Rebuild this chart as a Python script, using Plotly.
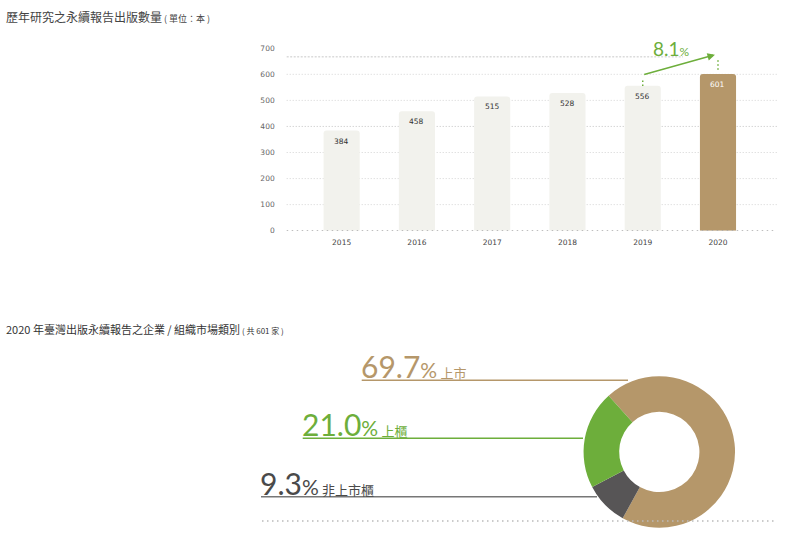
import plotly.graph_objects as go

# ---------------- data ----------------
years = ["2015", "2016", "2017", "2018", "2019", "2020"]
reports = [384, 458, 515, 528, 556, 601]
y_ticks = [0, 100, 200, 300, 400, 500, 600, 700]
growth_label = "8.1"

market_labels = ["上市", "非上市櫃", "上櫃"]
market_shares = [69.7, 9.3, 21.0]

TAN = "#b5976a"
GREEN = "#6dae3b"
DARK = "#575556"
LIGHT = "#f2f2ed"

W, H = 792, 544
def px(x):
    return x / W
def py(y):
    return 1 - y / H

bar_colors = [LIGHT] * (len(years) - 1) + [TAN]
text_colors = ["#333333"] * (len(years) - 1) + ["#ffffff"]

fig = go.Figure()

fig.add_trace(go.Bar(
    x=years, y=reports,
    marker=dict(color=bar_colors, line=dict(width=0), cornerradius=3),
    width=0.48,
    hoverinfo="skip",
    xaxis="x", yaxis="y",
    showlegend=False,
))

fig.add_trace(go.Pie(
    labels=market_labels, values=market_shares,
    marker=dict(colors=[TAN, DARK, GREEN], line=dict(width=0)),
    hole=0.53, sort=False, direction="clockwise", rotation=-42,
    textinfo="none", hoverinfo="skip",
    domain=dict(x=[px(582.3), px(736.3)], y=[py(532.5), py(378.5)]),
    showlegend=False,
))

fig.update_layout(
    width=W, height=H,
    margin=dict(l=0, r=0, t=0, b=0),
    paper_bgcolor="white", plot_bgcolor="white",
    xaxis=dict(domain=[px(286.7), px(776.7)], range=[-0.73, 5.78],
               type="category", categoryarray=years,
               showgrid=False, zeroline=False, showline=False, ticks="",
               tickfont=dict(family="DejaVu Sans", size=7.5, color="#444444"),
               ticklabelstandoff=6),
    yaxis=dict(domain=[py(230.5), py(45)], range=[0, 700],
               tickvals=y_ticks, showgrid=False, zeroline=False, showline=False,
               ticks="", tickfont=dict(family="DejaVu Sans", size=7.5, color="#666666"),
               ticklabelstandoff=11),
    font=dict(family="Lato, Noto Sans CJK TC"),
)

shapes = []
for v in y_ticks[1:-1]:
    col = "#c2c2c2" if v == 400 else "#d4d4d4"
    shapes.append(dict(type="line", xref="x domain", yref="y", x0=0, x1=1, y0=v, y1=v,
                       line=dict(color=col, width=1, dash="1px,2px"), layer="below"))
# baseline
shapes.append(dict(type="line", xref="x domain", yref="y", x0=0, x1=1, y0=0, y1=0,
                   line=dict(color="#a8a8a8", width=1.5, dash="1.5px,3.5px"), layer="above"))
# top dashed reference line
shapes.append(dict(type="line", xref="x domain", yref="y", x0=0, x1=(683 - 286.7) / 490, y0=667, y1=667,
                   line=dict(color="#c8c8c8", width=1, dash="2px,1.5px"), layer="below"))
# green dotted verticals
shapes.append(dict(type="line", xref="x", yref="y", x0=4, x1=4, y0=555, y1=583,
                   line=dict(color=GREEN, width=1.5, dash="1.5px,2.5px")))
shapes.append(dict(type="line", xref="x", yref="y", x0=5, x1=5, y0=618, y1=663,
                   line=dict(color=GREEN, width=1.5, dash="1.5px,2.5px")))

# donut label underlines
label_lines = [(361.7, 628, 382.7, TAN), (302.7, 583, 441.5, GREEN), (261, 597, 501, "#777777")]
for x0, x1, y, c in label_lines:
    shapes.append(dict(type="line", xref="paper", yref="paper", x0=px(x0), x1=px(x1),
                       y0=py(y), y1=py(y), line=dict(color=c, width=1.5)))
# bottom dotted line
shapes.append(dict(type="line", xref="paper", yref="paper", x0=px(262), x1=px(777),
                   y0=py(525.7), y1=py(525.7), line=dict(color="#bbbbbb", width=1.5, dash="1.5px,3.5px")))
fig.update_layout(shapes=shapes)

annotations = []
# bar value labels (category index positions)
for i, (v, tc) in enumerate(zip(reports, text_colors)):
    annotations.append(dict(xref="x", yref="y", x=i, y=v, xanchor="center", yanchor="top",
        yshift=-4, showarrow=False, text=str(v),
        font=dict(family="DejaVu Sans", size=7.5, color=tc)))
# titles
annotations.append(dict(xref="paper", yref="paper", x=px(4), y=py(13), xanchor="left", yanchor="middle",
    showarrow=False, align="left",
    text="歷年研究之永續報告出版數量<span style='font-size:9px'> ( 單位：本 )</span>",
    font=dict(family="Noto Sans CJK TC", size=12, color="#444444")))
annotations.append(dict(xref="paper", yref="paper", x=px(4), y=py(330), xanchor="left", yanchor="middle",
    showarrow=False, align="left",
    text="2020 年臺灣出版永續報告之企業 / 組織市場類別<span style='font-size:8px'> ( 共 601 家 )</span>",
    font=dict(family="Noto Sans CJK TC", size=11, color="#333333")))

# growth arrow
annotations.append(dict(xref="x", yref="y", x=4.96, y=675, axref="x", ayref="y", ax=4, ay=598,
    text="", showarrow=True, arrowhead=2, arrowsize=1, arrowwidth=1.5, arrowcolor=GREEN))
annotations.append(dict(xref="paper", yref="paper", x=px(651), y=py(45), xanchor="left", yanchor="middle",
    showarrow=False,
    text=growth_label + "<span style='font-size:12px'>%</span>",
    font=dict(family="Lato", size=19, color=GREEN)))

# donut labels
donut_label_pos = [(361.7, 382, TAN), (302.7, 441, GREEN), (261, 501, "#4a4a4a")]
order = [0, 2, 1]
for (x0, y0, c), i in zip(donut_label_pos, order):
    annotations.append(dict(xref="paper", yref="paper", x=px(x0 - 3), y=py(y0 + 6),
        xanchor="left", yanchor="bottom", showarrow=False, align="left",
        text=f"{market_shares[i]:.1f}<span style='font-size:21px'>%</span>"
             f"<span style='font-size:13px'> {market_labels[i]}</span>",
        font=dict(family="Lato, Noto Sans CJK TC", size=30, color=c)))
fig.update_layout(annotations=annotations)

fig.write_html("out.html", config={"displayModeBar": False},
               post_script="document.body.style.margin='0px';")
